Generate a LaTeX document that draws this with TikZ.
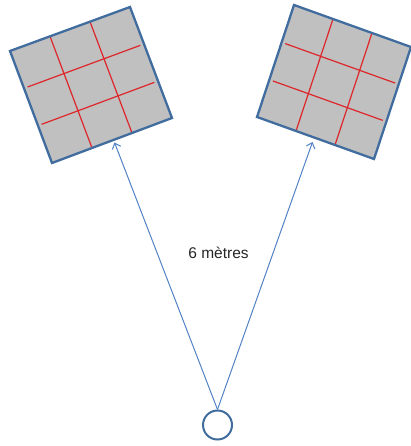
\documentclass[tikz,border=0pt]{standalone}
\usepackage{fontspec}
\setmainfont{Liberation Sans}
\usetikzlibrary{arrows.meta,calc}
\definecolor{panelborder}{RGB}{65,108,158}
\definecolor{panelfill}{RGB}{192,192,192}
\definecolor{gridred}{RGB}{222,38,42}
\definecolor{arrowblue}{RGB}{82,130,196}
\tikzset{
  panel/.style={draw=panelborder,fill=panelfill,line width=2.3pt,line join=miter},
  gridline/.style={draw=gridred,line width=1.2pt},
  sightline/.style={draw=arrowblue,line width=1pt,-{Straight Barb[length=5pt,width=9pt,line width=1pt]}},
  observer/.style={circle,draw=panelborder,line width=2pt,minimum size=29pt,inner sep=0pt},
  caption/.style={font=\fontsize{15.5}{18}\selectfont,text=black!85}
}
\begin{document}
\begin{tikzpicture}[x=1pt,y=-1pt]
\useasboundingbox (0,0) rectangle (410,446);
% left panel corners
\coordinate (LA) at (10,51);
\coordinate (LB) at (130,7);
\coordinate (LC) at (172,118);
\coordinate (LD) at (52,163);
% right panel corners
\coordinate (RA) at (294,5);
\coordinate (RB) at (411,47);
\coordinate (RC) at (374,159);
\coordinate (RD) at (257,117);
% panels
\foreach \p in {L,R}{
  \fill[panelfill] (\p A) -- (\p B) -- (\p C) -- (\p D) -- cycle;
  \foreach \f in {0.3333,0.6667}{
    \draw[gridline] ($(\p A)!\f!(\p B)$) -- ($(\p D)!\f!(\p C)$);
    \draw[gridline] ($($(\p A)!\f!(\p D)$)!0.03!($(\p B)!\f!(\p C)$)$) -- ($($(\p B)!\f!(\p C)$)!0.03!($(\p A)!\f!(\p D)$)$);
  }
  \draw[panel,fill=none] (\p A) -- (\p B) -- (\p C) -- (\p D) -- cycle;
}
\coordinate (tipL) at (114.5,142.5);
\coordinate (tipR) at (312.5,142);
\node[observer] (eye) at (217.5,425) {};
\draw[sightline] (eye.north) -- (tipL);
\draw[sightline] (eye.north) -- (tipR);
\node[caption] (dist) at (218.5,253) {6 mètres};
\end{tikzpicture}
\end{document}
